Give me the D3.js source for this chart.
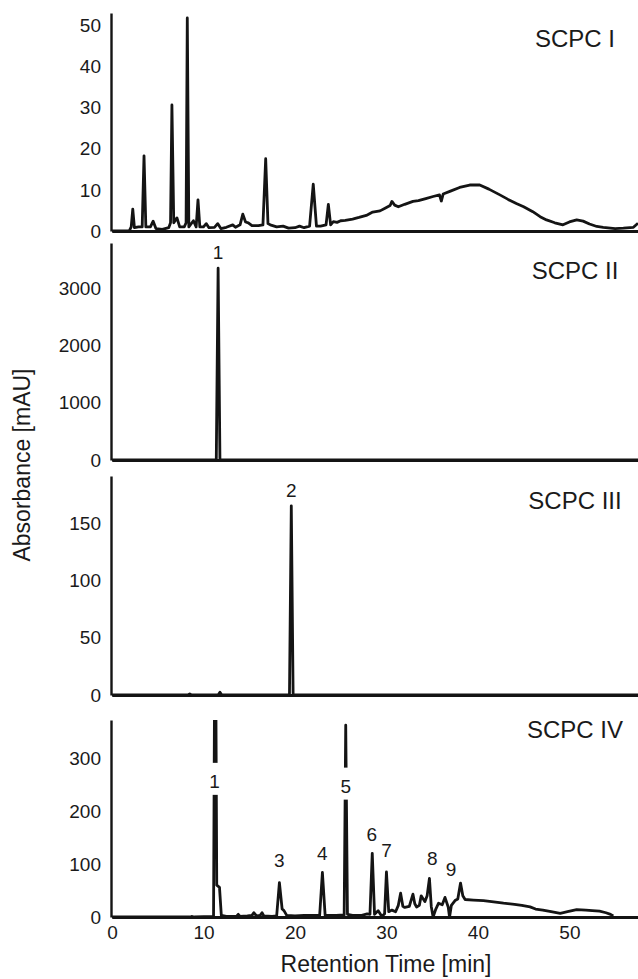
<!DOCTYPE html>
<html>
<head>
<meta charset="utf-8">
<script src="https://cdn.jsdelivr.net/npm/d3@7/dist/d3.min.js"></script>
<style>
  body { margin: 0; background: #fff; }
  svg { display: block; font-family: "Liberation Sans", Arial, sans-serif; }
</style>
</head>
<body>
<svg id="chart" width="638" height="979"></svg>
<script>
// chromatogram traces, [retention time (min), absorbance (mAU)]
const scpc1 = [[0,0],[1.9,0.1],[2.1,1],[2.27,5.3],[2.45,0.8],[2.9,1],[3.3,1],[3.5,18.3],[3.7,1],[4.2,1],[4.5,2.4],[4.8,0.6],
  [5.5,0.4],[6.2,0.8],[6.4,2],[6.55,30.7],[6.75,2],[7.1,3.2],[7.4,1],[7.9,1],[8.1,2],[8.23,51.9],[8.4,1],[8.9,2.5],[9.2,1],
  [9.4,7.6],[9.6,1],[10.0,1],[10.3,1.8],[10.6,0.8],[11.2,0.9],[11.55,1.8],[11.9,0.6],[12.5,0.9],[13.2,1.5],[13.5,0.9],[14.0,1.5],
  [14.3,4.1],[14.6,2.2],[14.9,2],[15.3,1.3],[16.0,1.3],[16.5,1.5],[16.8,17.6],[17.05,1.8],[17.3,1.5],[18.0,1.0],[18.7,1.2],
  [19.3,0.7],[20.0,0.8],[20.5,1.2],[21.0,0.8],[21.6,1.2],[22.0,11.4],[22.35,1.2],[22.8,1.2],[23.4,1.5],[23.65,6.5],[23.9,1.5],
  [24.2,2.3],[24.6,2.1],[25.0,2.5],[25.5,2.6],[26.3,2.9],[27.0,3.3],[27.8,3.8],[28.5,4.6],[29.3,4.9],[29.9,5.6],[30.4,6.2],
  [30.6,7.2],[30.9,6.3],[31.3,5.9],[32.0,6.5],[32.9,7.2],[33.5,7.4],[34.3,7.9],[35.1,8.4],[35.8,8.8],[36.0,7.3],[36.2,9.0],
  [37.0,9.7],[38.0,10.6],[39.1,11.2],[40.2,11.2],[41.2,10.2],[42.4,8.8],[43.3,7.7],[44.2,6.7],[45.0,5.9],[46.0,4.7],[46.8,3.5],
  [47.5,2.7],[48.4,2.0],[49.3,1.5],[50.0,2.2],[50.8,2.7],[51.5,2.4],[52.2,1.7],[53.0,1.1],[53.7,0.9],[55.0,0.6],[55.9,0.7],
  [57.0,0.9],[57.5,1.9]];
const scpc2 = [[0,0],[5,0],[11.4,0],[11.6,3345],[11.8,0],[57.5,0]];
const scpc3 = [[0,0],[8.3,0],[8.5,1],[8.7,0],[11.6,0],[11.8,2.5],[12.0,0],[19.4,0],[19.6,165],[19.8,0],[57.5,0]];
const scpc4 = [[0,0],[8.5,0],[8.7,1],[9,0],[11.1,1],[11.28,700],[11.45,60],[11.75,56],[11.95,3],[12.5,1],[13.6,1],[13.8,5],
  [14.0,1],[14.8,2],[15.3,3],[15.5,8],[15.8,2],[16.2,3],[16.4,8],[16.6,2],[17.5,1],[18.0,2],[18.3,65],[18.6,15],[18.8,12],
  [19.1,3],[20,2],[21,3],[21.7,3],[22.0,3],[22.7,3],[23.0,84],[23.3,3],[24.5,3],[25.38,4],[25.55,362],[25.74,5],[26.3,3],
  [27.3,3],[27.9,6],[28.2,5],[28.45,120],[28.7,5],[29.1,12],[29.5,1],[29.8,6],[30.0,85],[30.25,10],[30.6,13],[31.0,10],
  [31.3,22],[31.55,45],[31.8,20],[32.0,18],[32.5,20],[32.9,43],[33.1,25],[33.3,19],[33.6,22],[33.8,40],[34.2,29],[34.45,40],
  [34.7,73],[34.9,20],[35.1,0],[35.4,15],[35.7,26],[36.1,23],[36.4,37],[36.75,19],[36.9,0],[37.1,22],[37.5,31],[37.8,34],
  [38.1,64],[38.35,40],[38.6,33],[39.5,32],[40.6,31],[41.5,29],[42.8,26],[44.0,24],[44.8,22],[45.7,19],[46.3,15],[47.1,13],
  [48.0,10],[49.0,7],[49.8,10],[50.8,14],[51.8,13],[52.5,12],[53.3,11],[54.0,8],[54.5,5],[54.8,2]];

const panelNames = ["SCPC I", "SCPC II", "SCPC III", "SCPC IV"];
const yTicks = [[0,10,20,30,40,50],[0,1000,2000,3000],[0,50,100,150],[0,100,200,300]];
const yMax = [53.1, 3785, 191, 371.7];
const xTicks = [0,10,20,30,40,50];

// peak labels: [panel, text, time, absorbance position]
const peakLabels = [[1,"1",11.6,3611],[2,"2",19.6,178],[3,"1",11.2,255],[3,"3",18.3,106],[3,"4",23.0,120],
  [3,"5",25.55,246],[3,"6",28.4,155],[3,"7",30.0,125],[3,"8",35.0,111],[3,"9",37.06,89]];

const traces = [scpc1, scpc2, scpc3, scpc4];

// layout
const panelTop = [13, 243, 476, 720];
const panelBottom = [231, 460, 695, 917];
const titleY = [47, 279, 509, 738];
const left = 112, right = 638;
const ink = "#141414";

const svg = d3.select("#chart");
const x = d3.scaleLinear().domain([0, 57.5]).range([left, right]);

panelNames.forEach((name, i) => {
  const y = d3.scaleLinear().domain([0, yMax[i]]).range([panelBottom[i], panelTop[i]]);
  const g = svg.append("g");

  g.append("clipPath").attr("id", "clip" + i)
    .append("rect")
    .attr("x", left - 2).attr("y", panelTop[i])
    .attr("width", right - left + 4).attr("height", panelBottom[i] - panelTop[i] + 4);

  // x baseline
  const xAxis = d3.axisBottom(x).tickSize(0).tickPadding(9).tickSizeOuter(0);
  if (i < 3) xAxis.tickValues([]);
  else xAxis.tickValues(xTicks);
  const xg = g.append("g").attr("transform", "translate(0," + panelBottom[i] + ")").call(xAxis);
  xg.select(".domain").attr("stroke", ink).attr("stroke-width", 2.8);
  xg.selectAll("text").attr("font-size", 19).attr("fill", "#1a1a1a").attr("font-family", null);

  // y axis
  const yg = g.append("g").attr("transform", "translate(" + (left - 1) + ",0)")
    .call(d3.axisLeft(y).tickValues(yTicks[i]).tickFormat(d3.format("d"))
      .tickSize(0).tickPadding(10).tickSizeOuter(0));
  yg.select(".domain").attr("stroke", ink).attr("stroke-width", 2.4);
  yg.selectAll("text").attr("font-size", 19).attr("fill", "#1a1a1a").attr("font-family", null);

  // trace
  g.append("path")
    .datum(traces[i])
    .attr("clip-path", "url(#clip" + i + ")")
    .attr("fill", "none")
    .attr("stroke", ink)
    .attr("stroke-width", 2.8)
    .attr("stroke-linejoin", "round")
    .attr("d", d3.line().x(d => x(d[0])).y(d => y(d[1])));

  // peak labels
  peakLabels.filter(d => d[0] === i).forEach(d => {
    const cx = x(d[2]), cy = y(d[3]);
    g.append("rect").attr("x", cx - 7).attr("y", cy - 19).attr("width", 14).attr("height", 32).attr("fill", "#fff");
    g.append("text").attr("x", cx).attr("y", cy)
      .attr("text-anchor", "middle").attr("dominant-baseline", "central")
      .attr("font-size", 19).attr("fill", "#1a1a1a").text(d[1]);
  });

  g.append("text").attr("x", 575).attr("y", titleY[i])
    .attr("text-anchor", "middle").attr("font-size", 24).attr("fill", "#1a1a1a").text(name);
});

svg.append("text")
  .attr("transform", "translate(30,465) rotate(-90)")
  .attr("text-anchor", "middle").attr("font-size", 23).attr("fill", "#1a1a1a")
  .text("Absorbance [mAU]");

svg.append("text")
  .attr("x", 386).attr("y", 972)
  .attr("text-anchor", "middle").attr("font-size", 23).attr("fill", "#1a1a1a")
  .text("Retention Time [min]");
</script>
</body>
</html>
